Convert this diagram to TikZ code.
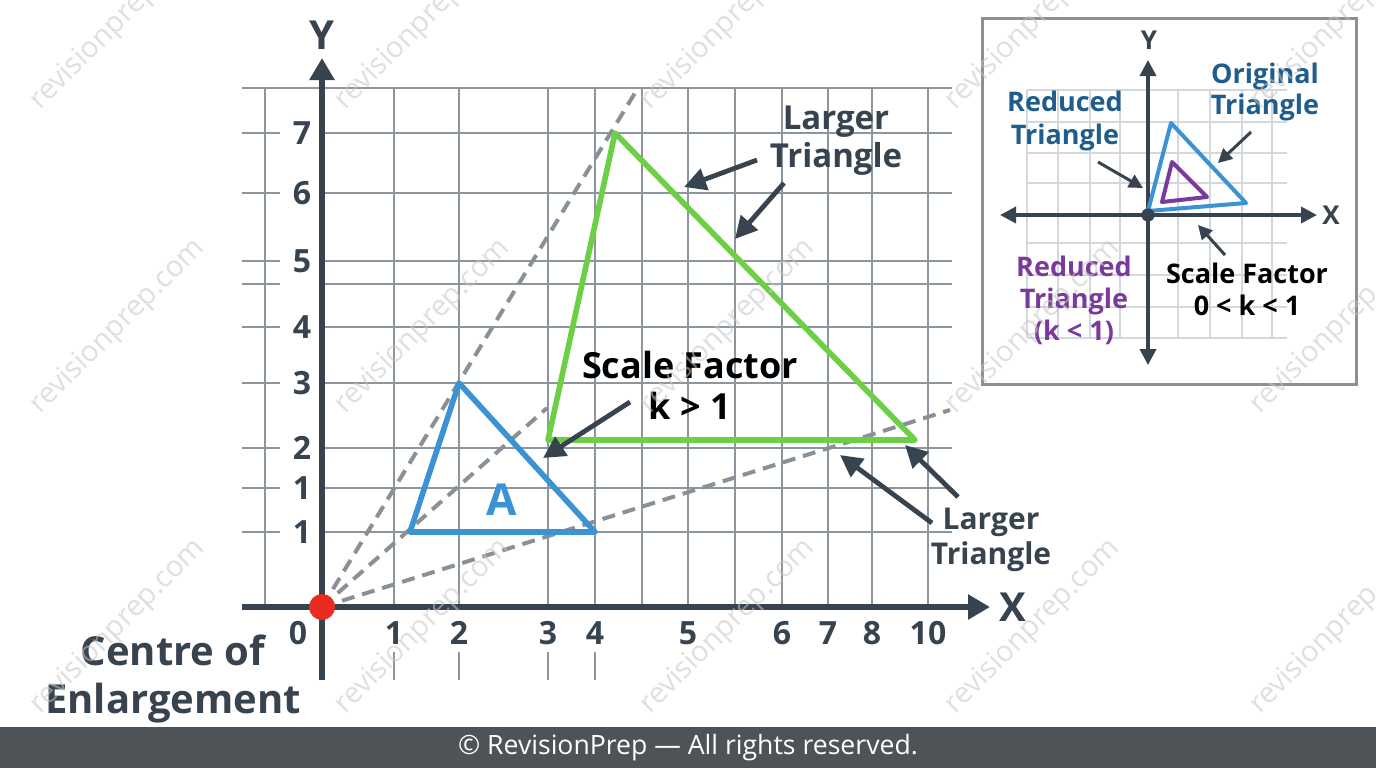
\documentclass[tikz,border=0pt]{standalone}
\usepackage{fontspec}
\setmainfont{Open Sans}
\usepackage{tikz}
\usetikzlibrary{arrows.meta}
\usepackage{xcolor}
\definecolor{slate}{HTML}{37434F}
\definecolor{gridgray}{HTML}{8C969F}
\definecolor{raygray}{HTML}{8A9096}
\definecolor{lightgrid}{HTML}{D3D8DC}
\definecolor{shapeblue}{HTML}{3B93D3}
\definecolor{shapegreen}{HTML}{6CCF45}
\definecolor{textblue}{HTML}{1F5E8C}
\definecolor{shapepurple}{HTML}{7A3A9B}
\definecolor{dotred}{HTML}{E82C20}
\definecolor{footer}{HTML}{4E5358}

\begin{document}
\begin{tikzpicture}[x=0.5pt, y=-0.5pt]
    % Define styles for lines, arrows and labels
    \tikzstyle{gridline} = [draw=gridgray, line width=0.9pt]
    \tikzstyle{axis} = [slate, line width=2.8pt, -{Triangle[length=11pt, width=12pt]}]
    \tikzstyle{ray} = [raygray, line width=2pt, dash pattern=on 6.5pt off 4pt]
    \tikzstyle{pointer} = [slate, line width=2.4pt, -{Triangle[length=11pt, width=11pt]}]
    \tikzstyle{smallpointer} = [slate, line width=1.5pt, -{Triangle[length=7pt, width=7pt]}]
    \tikzstyle{ticklabel} = [text=slate, inner sep=0, font=\fontsize{16}{18}\selectfont\bfseries]
    \tikzstyle{callout} = [align=center, inner sep=0]
    \tikzstyle{watermark} = [text=gray!45, text opacity=0.55, rotate=45, font=\fontsize{14.5}{16}\selectfont]

    \useasboundingbox (0,0) rectangle (1376,768);
    \fill [white] (0,0) rectangle (1376,768);

    % main grid
    \draw [gridline] (242,88) -- (952,88);
    \foreach \gy in {133,193,261,284,327,383,448,488,532} {
        \draw [gridline] (242,\gy) -- (280,\gy);
        \draw [gridline] (322,\gy) -- (952,\gy);
    }
    \foreach \gx in {265,394,459,548,595,642,688,735,782,828,872,928} {
        \draw [gridline] (\gx,88) -- (\gx,607);
    }
    \foreach \gx in {394,459,548,595} {
        \draw [gridline] (\gx,652) -- (\gx,680);
    }

    % axes
    \draw [axis] (242,607) -- (990,607);
    \draw [axis] (322,680) -- (322,58);
    \node (xlabel) [text=slate, font=\fontsize{20}{20}\selectfont\bfseries] at (1013,607) {X};
    \node (ylabel) [text=slate, font=\fontsize{20}{20}\selectfont\bfseries] at (322,35) {Y};

    % tick labels
    \node (y7) [ticklabel] at (302,133) {7};
    \node (y6) [ticklabel] at (302,193) {6};
    \node (y5) [ticklabel] at (302,261) {5};
    \node (y4) [ticklabel] at (302,327) {4};
    \node (y3) [ticklabel] at (302,383) {3};
    \node (y2) [ticklabel] at (302,448) {2};
    \node (y1a) [ticklabel] at (302,488) {1};
    \node (y1b) [ticklabel] at (302,532) {1};
    \node (x0) [ticklabel] at (298,633) {0};
    \node (x1) [ticklabel] at (394,633) {1};
    \node (x2) [ticklabel] at (459,633) {2};
    \node (x3) [ticklabel] at (548,633) {3};
    \node (x4) [ticklabel] at (595,633) {4};
    \node (x5) [ticklabel] at (688,633) {5};
    \node (x6) [ticklabel] at (782,633) {6};
    \node (x7) [ticklabel] at (828,633) {7};
    \node (x8) [ticklabel] at (872,633) {8};
    \node (x10) [ticklabel] at (928,633) {10};

    % rays from the centre
    \coordinate (centre) at (322,607);
    \draw [ray] (centre) -- (638,88);
    \draw [ray] (centre) -- (547,408);
    \draw [ray] (centre) -- (950,410);

    % triangles
    \draw [shapeblue, line width=2.8pt, line join=round] (410,532) -- (459,383) -- (595,532) -- cycle;
    \node (A) [text=shapeblue, font=\fontsize{22}{24}\selectfont\bfseries] at (502,500) {A};
    \draw [shapegreen, line width=2.8pt, line join=round] (548,440) -- (615,133) -- (915,440) -- cycle;
    \fill [dotred] (centre) circle [radius=6.5pt];

    % labels
    \node (scalefactor) [callout, font=\fontsize{18}{20.5}\selectfont\bfseries] at (690,385) {Scale Factor\\k > 1};
    \node (largertop) [callout, text=slate, font=\fontsize{16.5}{19}\selectfont\bfseries] at (836,141) {Larger\\Triangle};
    \node (largerbottom) [callout, text=slate, font=\fontsize{15}{17.5}\selectfont\bfseries] at (991,540) {Larger\\Triangle};
    \node (centrelabel) [callout, text=slate, font=\fontsize{20}{24}\selectfont\bfseries] at (173,679) {Centre of\\Enlargement};

    % arrows
    \coordinate (sftail) at (630,402);
    \coordinate (sfhead) at (543,458);
    \coordinate (lttail1) at (757,160);
    \coordinate (lthead1) at (684,187);
    \coordinate (lttail2) at (784,183);
    \coordinate (lthead2) at (735,239);
    \coordinate (lbtail1) at (932,523);
    \coordinate (lbhead1) at (840,455);
    \coordinate (lbtail2) at (958,497);
    \coordinate (lbhead2) at (905,445);
    \draw [pointer] (sftail) -- (sfhead);
    \draw [pointer] (lttail1) -- (lthead1);
    \draw [pointer] (lttail2) -- (lthead2);
    \draw [pointer] (lbtail1) -- (lbhead1);
    \draw [pointer] (lbtail2) -- (lbhead2);

    % inset
    \draw [draw=raygray, line width=1.5pt, fill=white] (982,18) rectangle (1356,384);
    \foreach \ix in {1027,1058,1090,1120,1178,1210,1242,1272} {
        \draw [lightgrid, line width=0.7pt] (\ix,90) -- (\ix,338);
    }
    \foreach \iy in {90,122,153,183,243,275,307,338} {
        \draw [lightgrid, line width=0.7pt] (1027,\iy) -- (1287,\iy);
    }
    \draw [slate, line width=1.8pt, {Triangle[length=8pt, width=8pt]}-{Triangle[length=8pt, width=8pt]}] (1000,215) -- (1317,215);
    \draw [slate, line width=1.8pt, {Triangle[length=8pt, width=8pt]}-{Triangle[length=8pt, width=8pt]}] (1148,365) -- (1148,60);
    \node (insetx) [text=slate, font=\fontsize{13}{14}\selectfont\bfseries] at (1331,215) {X};
    \node (insety) [text=slate, font=\fontsize{13}{14}\selectfont\bfseries] at (1149,40) {Y};
    \draw [shapeblue, line width=2pt, line join=round] (1148,211) -- (1171,123) -- (1246,203) -- cycle;
    \draw [shapepurple, line width=2pt, line join=round] (1162,202) -- (1172,162) -- (1207,197) -- cycle;
    \fill [slate] (1148,215) circle [radius=3.3pt];

    \node (original) [callout, text=textblue, font=\fontsize{13.5}{15.5}\selectfont\bfseries] at (1265,92) {Original\\Triangle};
    \node (reducedtop) [callout, text=textblue, font=\fontsize{13.5}{16.5}\selectfont\bfseries] at (1065,121) {Reduced\\Triangle};
    \node (reducedbottom) [callout, text=shapepurple, font=\fontsize{13.5}{16}\selectfont\bfseries] at (1074,300) {Reduced\\Triangle\\(k < 1)};
    \node (insetscale) [callout, font=\fontsize{13.5}{16}\selectfont\bfseries] at (1247,289) {Scale Factor\\0 < k < 1};

    \coordinate (ortail) at (1251,132);
    \coordinate (orhead) at (1218,163);
    \coordinate (rdtail) at (1098,162);
    \coordinate (rdhead) at (1143,188);
    \coordinate (istail) at (1225,255);
    \coordinate (ishead) at (1198,225);
    \draw [smallpointer] (ortail) -- (orhead);
    \draw [smallpointer] (rdtail) -- (rdhead);
    \draw [smallpointer] (istail) -- (ishead);

    % watermark
    \foreach \wx in {118,423,728,1033,1338} {
        \foreach \wy in {23,327,627} {
            \node [watermark] at (\wx,\wy) {revisionprep.com};
        }
    }

    % footer
    \fill [footer] (0,727) rectangle (1376,768);
    \node (copyright) [text=white, font=\fontsize{13.3}{14}\selectfont] at (688,748) {© RevisionPrep — All rights reserved.};
\end{tikzpicture}
\end{document}
